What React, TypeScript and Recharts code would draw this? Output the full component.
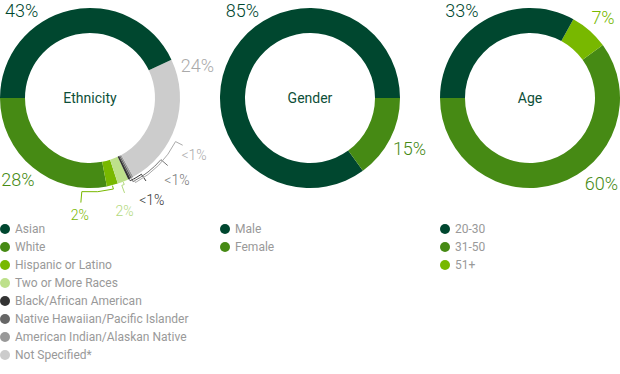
import React from 'react';
import { PieChart, Pie, Cell } from 'recharts';

// ---- data ----
const ethnicityNames = [
  'Asian',
  'White',
  'Hispanic or Latino',
  'Two or More Races',
  'Black/African American',
  'Native Hawaiian/Pacific Islander',
  'American Indian/Alaskan Native',
  'Not Specified*',
];
const ethnicityValues = [43, 28, 2, 2, 0.4, 0.3, 0.3, 24];
const ethnicityLabels = ['43%', '28%', '2%', '2%', '<1%', '<1%', '<1%', '24%'];
// ring order, counter-clockwise from 9 o'clock
const ethnicityRingOrder = [1, 2, 3, 4, 5, 6, 7, 0];

const genderNames = ['Male', 'Female'];
const genderValues = [85, 15];
const genderLabels = ['85%', '15%'];
const genderRingOrder = [0, 1];

const ageNames = ['20-30', '31-50', '51+'];
const ageValues = [33, 60, 7];
const ageLabels = ['33%', '60%', '7%'];
const ageRingOrder = [1, 2, 0];

// ---- styles ----
const DARK = '#00472f';
const MID = '#468a14';
const BRIGHT = '#78b800';
const PALE = '#bde08b';

const ethnicityColors = [DARK, MID, BRIGHT, PALE, '#333333', '#666666', '#999999', '#cccccc'];
const ethnicityTextColors = [DARK, MID, BRIGHT, '#b2d97c', '#333333', '#777777', '#aaaaaa', '#aaaaaa'];
const genderColors = [DARK, MID];
const ageColors = [DARK, MID, BRIGHT];

const FONT = 'Roboto, "Noto Sans", sans-serif';
const OUTER = 90;
const INNER = 65;
const CY = 98;

type Spot = { angle: number; r: number; size?: number; arcR?: number; arcEnd?: number; tickR?: number };

// label placement (angles in recharts degrees, ccw from 3 o'clock)
const ethnicitySpots: Record<string, Spot> = {
  'Asian': { angle: 128, r: 111 },
  'Not Specified*': { angle: 16.6, r: 112 },
  'White': { angle: 228.4, r: 108.5 },
  'Hispanic or Latino': { angle: 265, r: 117, size: 14, arcR: 94, arcEnd: 265, tickR: 105 },
  'Two or More Races': { angle: 287, r: 118, size: 14, arcR: 93, arcEnd: 290, tickR: 101 },
  'Black/African American': { angle: 301.3, r: 119, size: 14, arcR: 92, arcEnd: 304, tickR: 100 },
  'Native Hawaiian/Pacific Islander': { angle: 316.7, r: 119.5, size: 14, arcR: 94, arcEnd: 319, tickR: 103 },
  'American Indian/Alaskan Native': { angle: 331.3, r: 118.6, size: 14, arcR: 96, arcEnd: 333, tickR: 104 },
};
const genderSpots: Record<string, Spot> = {
  'Male': { angle: 127.7, r: 110.5 },
  'Female': { angle: -26.9, r: 111.6 },
};
const ageSpots: Record<string, Spot> = {
  '20-30': { angle: 127.9, r: 110.8 },
  '51+': { angle: 47.6, r: 108.3 },
  '31-50': { angle: -50.3, r: 111.8 },
};

const RAD = Math.PI / 180;
const pt = (cx: number, cy: number, r: number, a: number) => [cx + r * Math.cos(-a * RAD), cy + r * Math.sin(-a * RAD)];

const buildRing = (names: string[], values: number[], labels: string[], colors: string[], textColors: string[], order: number[]) =>
  order.map((i) => ({ name: names[i], value: values[i], text: labels[i], color: colors[i], textColor: textColors[i] }));

const makeLabel = (spots: Record<string, Spot>, title: string) => (p: any) => {
  const d = p.payload && p.payload.name ? p.payload : p;
  const s = spots[d.name];
  if (!s) return null;
  const { cx, cy, outerRadius, midAngle } = p;
  const size = s.size || 18;
  const [lx, ly] = pt(cx, cy, s.r, s.angle);
  let path = null;
  if (s.arcR) {
    const [x0, y0] = pt(cx, cy, outerRadius + 0.5, midAngle);
    const [x1, y1] = pt(cx, cy, s.arcR, midAngle);
    const [x2, y2] = pt(cx, cy, s.arcR, s.arcEnd!);
    const [x3, y3] = pt(cx, cy, s.tickR!, s.arcEnd!);
    const sweep = s.arcEnd! > midAngle ? 0 : 1;
    path = (
      <path
        d={`M${x0},${y0} L${x1},${y1} A${s.arcR},${s.arcR} 0 0 ${sweep} ${x2},${y2} L${x3},${y3}`}
        fill="none"
        stroke={d.textColor}
        strokeWidth={1}
      />
    );
  }
  return (
    <g key={`lbl-${d.name}`}>
      {path}
      <text x={lx} y={ly + size * 0.355} textAnchor="middle" fill={d.textColor} fontSize={size} fontFamily={FONT} fontWeight={300}>
        {d.text}
      </text>
      {p.index === 0 && (
        <text x={cx} y={cy + 14 * 0.355} textAnchor="middle" fill="#0d4f38" fontSize={14} fontFamily={FONT}>
          {title}
        </text>
      )}
    </g>
  );
};

const ethnicityData = buildRing(ethnicityNames, ethnicityValues, ethnicityLabels, ethnicityColors, ethnicityTextColors, ethnicityRingOrder);
const genderData = buildRing(genderNames, genderValues, genderLabels, genderColors, genderColors, genderRingOrder);
const ageData = buildRing(ageNames, ageValues, ageLabels, ageColors, ageColors, ageRingOrder);

const LegendBlock = ({ left, names, colors }: { left: number; names: string[]; colors: string[] }) => (
  <div style={{ position: 'absolute', left, top: 220, fontFamily: FONT, fontSize: 12, color: '#999' }}>
    {names.map((n, i) => (
      <div key={n} style={{ height: 18, display: 'flex', alignItems: 'center', whiteSpace: 'nowrap' }}>
        <span style={{ width: 10, height: 10, borderRadius: 5, background: colors[i], marginRight: 5, flex: 'none' }} />
        <span>{n}</span>
      </div>
    ))}
  </div>
);

export default function App() {
  return (
    <div style={{ position: 'relative', width: 620, height: 374, background: '#fff' }}>
      <style>{'body{margin:0}'}</style>
      <PieChart width={620} height={374} margin={{ top: 0, right: 0, bottom: 0, left: 0 }} style={{ position: 'absolute', left: 0, top: 0 }}>
        <Pie
          data={ethnicityData}
          dataKey="value"
          nameKey="name"
          cx={90}
          cy={CY}
          innerRadius={INNER}
          outerRadius={OUTER}
          startAngle={180}
          endAngle={540}
          stroke="none"
          label={makeLabel(ethnicitySpots, 'Ethnicity')}
          labelLine={false}
          isAnimationActive={false}
        >
          {ethnicityData.map((d) => (
            <Cell key={d.name} fill={d.color} />
          ))}
        </Pie>
        <Pie
          data={genderData}
          dataKey="value"
          nameKey="name"
          cx={310}
          cy={CY}
          innerRadius={INNER}
          outerRadius={OUTER}
          startAngle={0}
          endAngle={360}
          stroke="none"
          label={makeLabel(genderSpots, 'Gender')}
          labelLine={false}
          isAnimationActive={false}
        >
          {genderData.map((d) => (
            <Cell key={d.name} fill={d.color} />
          ))}
        </Pie>
        <Pie
          data={ageData}
          dataKey="value"
          nameKey="name"
          cx={530}
          cy={CY}
          innerRadius={INNER}
          outerRadius={OUTER}
          startAngle={180}
          endAngle={540}
          stroke="none"
          label={makeLabel(ageSpots, 'Age')}
          labelLine={false}
          isAnimationActive={false}
        >
          {ageData.map((d) => (
            <Cell key={d.name} fill={d.color} />
          ))}
        </Pie>
      </PieChart>
      <LegendBlock left={0} names={ethnicityNames} colors={ethnicityColors} />
      <LegendBlock left={220} names={genderNames} colors={genderColors} />
      <LegendBlock left={440} names={ageNames} colors={ageColors} />
    </div>
  );
}
